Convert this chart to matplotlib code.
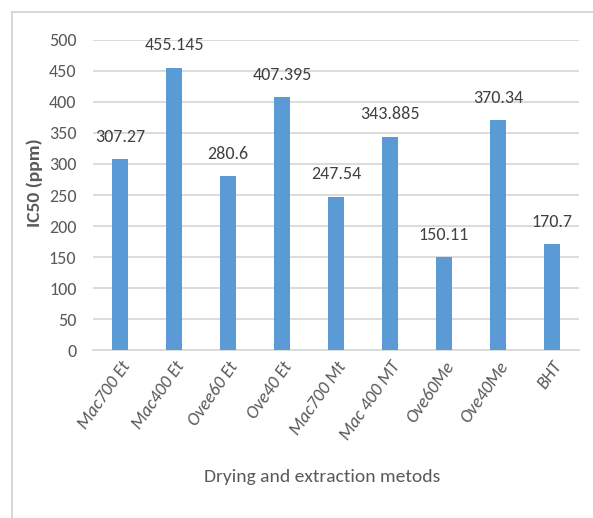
import matplotlib
matplotlib.use('Agg')
import matplotlib.pyplot as plt
from matplotlib.lines import Line2D

# 字体：Carlito（和 Calibri 同尺寸）
plt.rcParams['font.family'] = ['Carlito', 'DejaVu Sans']

# 数据
methods = ['Mac700 Et', 'Mac400 Et', 'Ovee60 Et', 'Ove40 Et', 'Mac700 Mt',
           'Mac 400 MT', 'Ove60Me', 'Ove40Me', 'BHT']
ic50 = [307.27, 455.145, 280.6, 407.395, 247.54, 343.885, 150.11, 370.34, 170.7]
value_labels = ['307.27', '455.145', '280.6', '407.395', '247.54',
                '343.885', '150.11', '370.34', '170.7']

fig = plt.figure(figsize=(5.93, 5.18), dpi=100)
ax = fig.add_axes([0.157, 0.324, 0.819, 0.599])

x = range(len(methods))
ax.bar(x, ic50, width=0.30, color='#5b9bd5', zorder=3)

for i, v in enumerate(ic50):
    ax.text(i, v + 23, value_labels[i], ha='center', va='bottom',
            fontsize=13, color='#404040')

ax.set_ylim(0, 500)
ax.set_xlim(-0.5, len(methods) - 0.5)
ax.set_yticks(range(0, 501, 50))
ax.yaxis.grid(True, color='#d9d9d9', linewidth=1.3, zorder=0)
ax.tick_params(axis='both', length=0, colors='#595959', labelsize=13)
ax.tick_params(axis='y', pad=12)
ax.tick_params(axis='x', pad=6)
ax.set_xticks(list(x))
ax.set_xticklabels(methods, rotation=55, ha='right', rotation_mode='anchor',
                   fontstyle='italic', fontsize=13)
for s in ['top', 'right', 'left']:
    ax.spines[s].set_visible(False)
ax.spines['bottom'].set_color('#d9d9d9')
ax.spines['bottom'].set_linewidth(1.3)

ax.set_ylabel('IC50 (ppm)', fontsize=14, fontweight='bold', color='#595959')
ax.yaxis.set_label_coords(-0.103, 0.54)
fig.text(0.543, 0.079, 'Drying and extraction metods', ha='center', va='center',
         fontsize=14, color='#595959')

# 外框线
fig.add_artist(Line2D([12 / 593, 12 / 593], [0, 1 - 12 / 518], color='#d0d0d0', lw=1.2))
fig.add_artist(Line2D([12 / 593, 1], [1 - 12 / 518, 1 - 12 / 518], color='#d0d0d0', lw=1.2))

fig.savefig('out.png', dpi=100)
